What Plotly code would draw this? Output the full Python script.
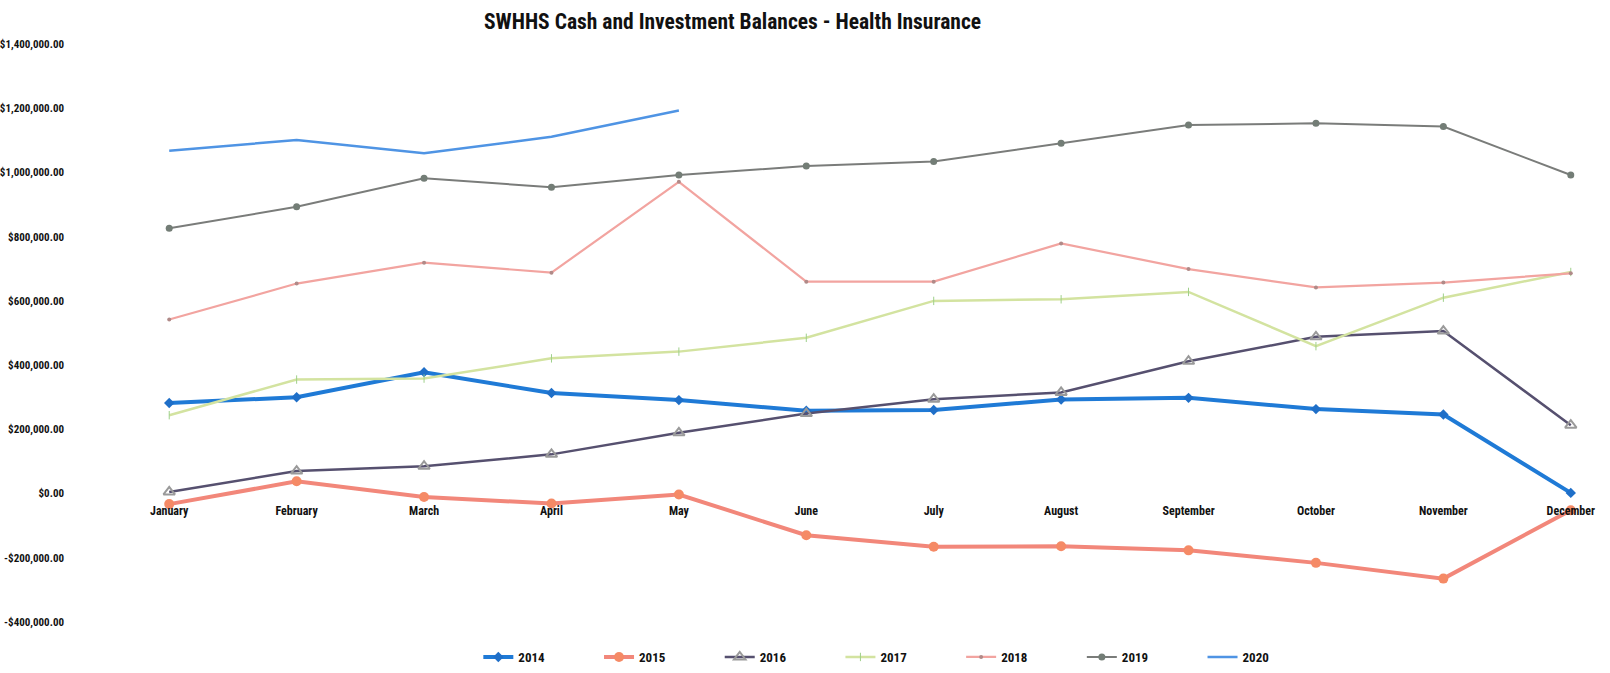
import plotly.graph_objects as go

# Monthly balances by fiscal year
months = ["January", "February", "March", "April", "May", "June",
          "July", "August", "September", "October", "November", "December"]

bal_2014 = [282000, 300000, 378000, 313000, 291000, 258000,
            260000, 293000, 298000, 263000, 246000, 2000]
bal_2015 = [-33000, 38000, -11000, -31000, -3000, -130000,
            -166000, -164000, -177000, -216000, -265000, -52000]
bal_2016 = [5000, 70000, 85000, 122000, 189000, 249000,
            294000, 315000, 412000, 488000, 506000, 213000]
bal_2017 = [244000, 355000, 358000, 421000, 442000, 485000,
            600000, 605000, 628000, 459000, 610000, 690000]
bal_2018 = [542000, 654000, 719000, 688000, 971000, 660000,
            660000, 779000, 699000, 642000, 657000, 686000]
bal_2019 = [826000, 893000, 982000, 954000, 992000, 1020000,
            1034000, 1091000, 1148000, 1153000, 1143000, 992000]
bal_2020 = [1068000, 1101000, 1060000, 1111000, 1193000]

y_ticks = [-400000, -200000, 0, 200000, 400000, 600000,
           800000, 1000000, 1200000, 1400000]


def money(v):
    return ("-$" if v < 0 else "$") + f"{abs(v):,.2f}"


series = [
    ("2014", bal_2014, dict(color="#1f7ad6", width=4),
     dict(symbol="diamond", size=8, color="#1f6fc8")),
    ("2015", bal_2015, dict(color="#f2877a", width=4),
     dict(symbol="circle", size=10, color="#f58a66")),
    ("2016", bal_2016, dict(color="#56506f", width=2.5),
     dict(symbol="triangle-up-open", size=10, color="#9a9a9a",
          line=dict(width=2))),
    ("2017", bal_2017, dict(color="#d3e3a0", width=2.5),
     dict(symbol="line-ns-open", size=6, color="#9fd08a")),
    ("2018", bal_2018, dict(color="#f2a4a0", width=2.2),
     dict(symbol="circle", size=4, color="#b08a88")),
    ("2019", bal_2019, dict(color="#7a7c7a", width=2),
     dict(symbol="circle", size=7, color="#737d76")),
    ("2020", bal_2020, dict(color="#4f94e4", width=2.5), None),
]

fig = go.Figure()
for name, vals, line, marker in series:
    fig.add_trace(go.Scatter(
        x=months[:len(vals)], y=vals, name=name,
        mode="lines+markers" if marker else "lines",
        line=line, marker=marker,
    ))

y_min, y_max = -450000, 1450000
narrow = "Noto Sans Condensed, Roboto Condensed, Liberation Sans Narrow, DejaVu Sans Condensed, sans-serif"
label_font = dict(family=narrow, size=11, color="#111111", weight="bold")

fig.update_layout(
    width=1610, height=673,
    margin=dict(l=131, r=1, t=28, b=35),
    plot_bgcolor="white", paper_bgcolor="white",
    title=dict(
        text="SWHHS Cash and Investment Balances - Health Insurance",
        x=0.455, xref="container", xanchor="center",
        y=1 - 21 / 673, yref="container", yanchor="middle",
        font=dict(family=narrow, size=21.5, color="#111111", weight="bold"),
    ),
    xaxis=dict(
        range=[-0.3, 11.3], showgrid=False, zeroline=False, showline=False,
        anchor="free", position=(0 - y_min) / (y_max - y_min),
        ticks="", ticklabelstandoff=8, automargin=False,
        tickfont=dict(label_font, size=12),
    ),
    yaxis=dict(
        range=[y_min, y_max], showgrid=False, zeroline=False, showline=False,
        tickvals=y_ticks, ticktext=[money(v) for v in y_ticks],
        ticks="", ticklabelstandoff=66, tickfont=label_font, automargin=False,
    ),
    legend=dict(
        orientation="h", x=0.235, xanchor="left",
        y=(638 - 657) / 610, yanchor="middle",
        entrywidth=75.7, entrywidthmode="pixels",
        font=dict(label_font, size=13), bgcolor="rgba(0,0,0,0)",
    ),
)

fig.write_html("out.html")
